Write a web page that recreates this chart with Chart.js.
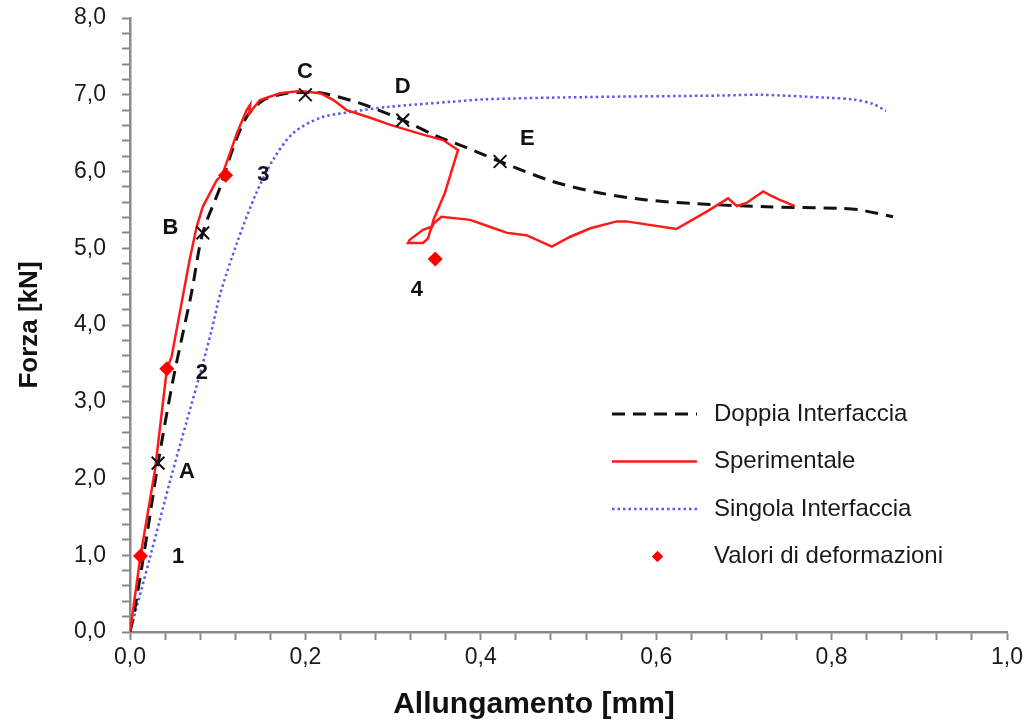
<!DOCTYPE html>
<html>
<head>
<meta charset="utf-8">
<script src="https://cdn.jsdelivr.net/npm/chart.js@4.4.1/dist/chart.umd.min.js"></script>
<style>
  html, body { margin: 0; padding: 0; background: #fff; }
</style>
</head>
<body>
<canvas id="grafico" width="1035" height="727"></canvas>
<script>
// Doppia Interfaccia (modello)
const doppiaX = [0, 0.004, 0.019, 0.032, 0.049, 0.061, 0.070, 0.083, 0.103, 0.118, 0.133, 0.152, 0.179, 0.200, 0.220, 0.262, 0.311, 0.350, 0.384, 0.422, 0.482, 0.536, 0.589, 0.646, 0.726, 0.810, 0.832, 0.870];
const doppiaY = [0, 0.20, 1.24, 2.20, 3.28, 3.93, 4.41, 5.20, 5.80, 6.32, 6.71, 6.93, 7.02, 7.03, 7.02, 6.89, 6.67, 6.46, 6.31, 6.13, 5.87, 5.72, 5.63, 5.58, 5.54, 5.52, 5.50, 5.41];

// Sperimentale
const speriX = [0, 0.012, 0.0285, 0.042, 0.0475, 0.053, 0.068, 0.076, 0.083, 0.099, 0.105, 0.122, 0.133, 0.137, 0.136, 0.148, 0.171, 0.194, 0.217, 0.232, 0.247, 0.274, 0.296, 0.334, 0.357, 0.374, 0.359, 0.346, 0.344, 0.334, 0.319, 0.317, 0.334, 0.340, 0.342, 0.346, 0.355, 0.388, 0.410, 0.430, 0.452, 0.481, 0.502, 0.525, 0.555, 0.566, 0.623, 0.658, 0.682, 0.692, 0.703, 0.722, 0.730, 0.741, 0.758];
const speriY = [0, 0.99, 2.11, 3.42, 3.59, 3.93, 4.85, 5.28, 5.54, 5.89, 5.95, 6.50, 6.80, 6.87, 6.76, 6.93, 7.02, 7.05, 7.02, 6.93, 6.80, 6.70, 6.61, 6.48, 6.41, 6.28, 5.72, 5.37, 5.28, 5.24, 5.11, 5.07, 5.07, 5.13, 5.22, 5.32, 5.41, 5.37, 5.28, 5.20, 5.17, 5.02, 5.15, 5.26, 5.35, 5.35, 5.25, 5.48, 5.65, 5.55, 5.59, 5.74, 5.69, 5.63, 5.55];

// Singola Interfaccia (modello)
const singolaX = [0, 0.023, 0.046, 0.065, 0.080, 0.093, 0.103, 0.122, 0.144, 0.163, 0.186, 0.217, 0.254, 0.293, 0.368, 0.403, 0.521, 0.677, 0.718, 0.796, 0.824, 0.847, 0.862];
const singolaY = [0, 0.98, 1.98, 2.76, 3.37, 3.93, 4.41, 5.07, 5.72, 6.15, 6.50, 6.70, 6.78, 6.84, 6.91, 6.94, 6.97, 6.99, 7.00, 6.96, 6.94, 6.88, 6.79];

// Valori di deformazioni (punti 1-4)
const valoriX = [0.012, 0.042, 0.109, 0.348];
const valoriY = [0.99, 3.43, 5.95, 4.86];

// punti A-E sulla curva doppia interfaccia
const crociX = [0.032, 0.083, 0.200, 0.311, 0.422];
const crociY = [2.20, 5.20, 7.00, 6.67, 6.13];

// etichette nel grafico
const etichette = ['A', 'B', 'C', 'D', 'E', '1', '2', '3', '4'];
const etichetteX = [0.065, 0.046, 0.1995, 0.311, 0.453, 0.055, 0.082, 0.152, 0.327];
const etichetteY = [2.09, 5.26, 7.30, 7.10, 6.43, 0.98, 3.37, 5.95, 4.46];

const ordineLegenda = ['Doppia Interfaccia', 'Sperimentale', 'Singola Interfaccia', 'Valori di deformazioni'];

const font = '"Liberation Sans", Arial, sans-serif';
const grigioAssi = '#8a8a8a';

function punti(xs, ys) {
    return xs.map((x, i) => ({ x: x, y: ys[i] }));
}

function formatoVirgola(v) {
    return v.toFixed(1).replace('.', ',');
}

const pluginEtichette = {
    id: 'etichette',
    afterDatasetsDraw(chart) {
        const ctx = chart.ctx;
        const sx = chart.scales.x;
        const sy = chart.scales.y;
        ctx.save();
        ctx.font = 'bold 22px ' + font;
        ctx.fillStyle = '#111';
        ctx.textAlign = 'center';
        ctx.textBaseline = 'middle';
        etichette.forEach((t, i) => {
            ctx.fillText(t, sx.getPixelForValue(etichetteX[i]), sy.getPixelForValue(etichetteY[i]));
        });
        ctx.restore();
    }
};

const pluginLegenda = {
    id: 'legenda',
    afterDraw(chart) {
        const ctx = chart.ctx;
        const area = chart.chartArea;
        const xLinea = area.left + 482;
        const lungLinea = 85;
        const xTesto = area.left + 584;
        const y0 = area.top + 396;
        const passo = 47.5;

        ctx.save();
        ordineLegenda.forEach((nome, i) => {
            const ds = chart.data.datasets.find(d => d.label === nome);
            const y = y0 + i * passo;
            if (ds.showLine === false) {
                ctx.fillStyle = ds.backgroundColor;
                Chart.helpers.drawPoint(ctx, { pointStyle: 'rectRot', radius: 5.5, rotation: 0, borderWidth: 0 }, xLinea + lungLinea / 2 + 3, y);
                ctx.fill();
            } else {
                ctx.beginPath();
                ctx.strokeStyle = ds.borderColor;
                ctx.lineWidth = ds.borderWidth;
                ctx.setLineDash(ds.borderDash || []);
                ctx.moveTo(xLinea, y);
                ctx.lineTo(xLinea + lungLinea, y);
                ctx.stroke();
                ctx.setLineDash([]);
            }
            ctx.fillStyle = '#1a1a1a';
            ctx.font = '24px ' + font;
            ctx.textAlign = 'left';
            ctx.textBaseline = 'middle';
            ctx.fillText(nome, xTesto, y);
        });
        ctx.restore();
    }
};

const pluginTitoliAssi = {
    id: 'titoliAssi',
    afterDraw(chart) {
        const ctx = chart.ctx;
        const area = chart.chartArea;
        ctx.save();
        ctx.fillStyle = '#111';
        ctx.textAlign = 'center';
        ctx.textBaseline = 'middle';
        ctx.font = 'bold 30px ' + font;
        ctx.fillText('Allungamento [mm]', area.left + 404, area.bottom + 73);
        ctx.translate(area.left - 100, (area.top + area.bottom) / 2);
        ctx.rotate(-Math.PI / 2);
        ctx.font = 'bold 26px ' + font;
        ctx.fillText('Forza [kN]', 0, 0);
        ctx.restore();
    }
};

const config = {
    type: 'scatter',
    data: {
        datasets: [
            {
                label: 'Valori di deformazioni',
                data: punti(valoriX, valoriY),
                showLine: false,
                pointStyle: 'rectRot',
                pointRadius: 7.5,
                backgroundColor: '#ff0000',
                borderWidth: 0
            },
            {
                label: 'Punti',
                data: punti(crociX, crociY),
                showLine: false,
                pointStyle: 'crossRot',
                pointRadius: 9,
                borderColor: '#111',
                borderWidth: 2
            },
            {
                label: 'Sperimentale',
                data: punti(speriX, speriY),
                showLine: true,
                borderColor: '#ff1a1a',
                borderWidth: 2.5,
                pointRadius: 0,
                tension: 0
            },
            {
                label: 'Doppia Interfaccia',
                data: punti(doppiaX, doppiaY),
                showLine: true,
                borderColor: '#111',
                borderWidth: 3,
                borderDash: [13, 8],
                pointRadius: 0,
                tension: 0.3
            },
            {
                label: 'Singola Interfaccia',
                data: punti(singolaX, singolaY),
                showLine: true,
                borderColor: '#5a5af0',
                borderWidth: 2.5,
                borderDash: [2.5, 3],
                pointRadius: 0,
                tension: 0.3
            }
        ]
    },
    options: {
        responsive: false,
        animation: false,
        layout: {
            padding: { top: 18, right: 28, left: 0, bottom: 0 }
        },
        plugins: {
            legend: { display: false },
            tooltip: { enabled: false }
        },
        scales: {
            x: {
                type: 'linear',
                min: 0,
                max: 1,
                ticks: {
                    stepSize: 0.04,
                    autoSkip: false,
                    maxRotation: 0,
                    padding: 4,
                    color: '#1a1a1a',
                    font: { family: font, size: 23 },
                    callback: v => Math.abs(v * 5 - Math.round(v * 5)) < 1e-6 ? formatoVirgola(v) : ''
                },
                grid: {
                    drawOnChartArea: false,
                    drawTicks: true,
                    tickLength: 8,
                    tickColor: grigioAssi,
                    tickWidth: 2
                },
                border: { color: grigioAssi, width: 2.5 },
                afterFit: s => { s.height = 95; s.paddingLeft = 0; s.paddingRight = 0; }
            },
            y: {
                type: 'linear',
                min: 0,
                max: 8,
                ticks: {
                    stepSize: 0.2,
                    autoSkip: false,
                    padding: 16,
                    color: '#1a1a1a',
                    font: { family: font, size: 23 },
                    callback: v => Math.abs(v - Math.round(v)) < 1e-6 ? formatoVirgola(v) : ''
                },
                grid: {
                    drawOnChartArea: false,
                    drawTicks: true,
                    tickLength: 8,
                    tickColor: grigioAssi,
                    tickWidth: 2
                },
                border: { color: grigioAssi, width: 2.5 },
                afterFit: s => { s.width = 130; s.paddingTop = 0; s.paddingBottom = 0; }
            }
        }
    },
    plugins: [pluginEtichette, pluginLegenda, pluginTitoliAssi]
};

const grafico = new Chart(document.getElementById('grafico'), config);
</script>
</body>
</html>
